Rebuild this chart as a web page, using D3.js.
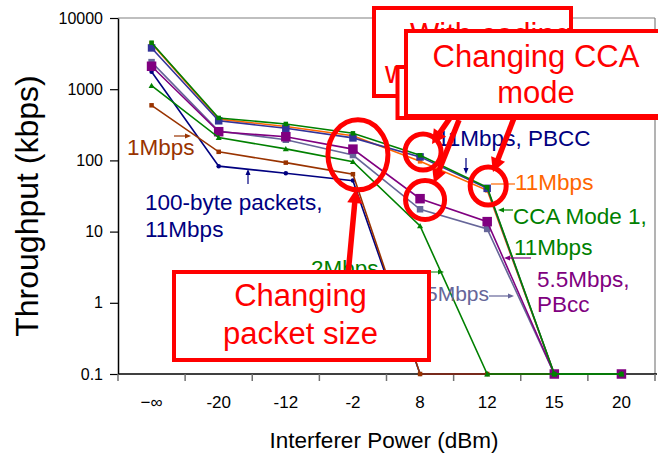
<!DOCTYPE html>
<html><head><meta charset="utf-8">
<script src="https://cdn.jsdelivr.net/npm/d3@7"></script>
<style>body{margin:0;background:#fff;} svg{display:block;} text{font-family:"Liberation Sans",Arial,sans-serif;}</style>
</head><body><svg id="c" width="658" height="457"></svg>
<script>
// ---- data ----
const categories = ["−∞","-20","-12","-2","8","12","15","20"];
const yTickValues = [0.1,1,10,100,1000,10000];
const yTickLabels = ["0.1","1","10","100","1000","10000"];
const byte100 = [1760,83,66,52,0.1,0.1,0.1,0.1];
const rate1   = [594,132,93,64,0.1,0.1,0.1,0.1];
const orange11= [4400,380,300,222,97,38,0.1,0.1];
const pbcc11  = [3800,360,283,207,112,40.5,0.1,0.1];
const rate55  = [2400,258,195,119,20.6,10.9,0.1,0.1];
const pbcc55  = [2100,253,215,144,29,13.8,0.1,0.1];
const rate2   = [1120,209,145,96,12,0.1,0.1,0.1];
const cca11   = [4500,395,325,240,118,42,0.1,0.1];

const seriesList = [
  {values: byte100, color:"#000080", shape:"circle", size:4.5},
  {values: rate1,   color:"#993300", shape:"square", size:4.5},
  {values: orange11,color:"#FF6600", shape:"square", size:4.5},
  {values: pbcc11,  color:"#333399", shape:"square", size:7.5},
  {values: rate55,  color:"#666699", shape:"square", size:6.5},
  {values: pbcc55,  color:"#800080", shape:"square", size:9.5},
  {values: rate2,   color:"#008000", shape:"triangle", size:6},
  {values: cca11,   color:"#008000", shape:"square", size:4.5}
];

const svg = d3.select("#c");
const L=118, R=655, T=18, B=374;
const x = d3.scalePoint().domain(categories).range([L,R]).padding(0.5);
const xb = d3.scaleBand().domain(categories).range([L,R]);
const y = d3.scaleLog().domain([0.1,10000]).range([B,T]);

// frame
svg.append("line").attr("x1",L).attr("x2",R).attr("y1",T).attr("y2",T).attr("stroke","#808080").attr("stroke-width",1.2);
svg.append("line").attr("x1",R).attr("x2",R).attr("y1",T).attr("y2",B).attr("stroke","#808080").attr("stroke-width",1.2);

// y axis
const ya = svg.append("g").attr("transform",`translate(${L},0)`)
  .call(d3.axisLeft(y).tickValues(yTickValues).tickFormat((d,i)=>yTickLabels[i]).tickSize(8).tickSizeOuter(0).tickPadding(7));
ya.select(".domain").attr("stroke","#000").attr("stroke-width",1.5);
ya.selectAll(".tick line").attr("stroke","#000").attr("stroke-width",1.2);
ya.selectAll("text").attr("font-size",16).attr("fill","#000").attr("font-family","Liberation Sans, Arial, sans-serif");

// x axis
svg.append("line").attr("x1",L).attr("x2",R+2).attr("y1",B).attr("y2",B).attr("stroke","#000").attr("stroke-width",1.5);
const bounds = categories.map(c=>xb(c)).concat([xb.range()[1]]);
svg.selectAll(".xt").data(bounds).enter().append("line")
  .attr("x1",d=>d).attr("x2",d=>d).attr("y1",B).attr("y2",B+7).attr("stroke","#707070").attr("stroke-width",1.5);
svg.selectAll(".xl").data(categories).enter().append("text")
  .attr("x",d=>x(d)).attr("y",408).attr("text-anchor","middle").attr("font-size",17).text(d=>d);

// titles
svg.append("text").attr("transform","translate(38,206) rotate(-90)").attr("text-anchor","middle")
  .attr("font-size",32).text("Throughput (kbps)");
svg.append("text").attr("x",384).attr("y",448).attr("text-anchor","middle").attr("font-size",22.5).text("Interferer Power (dBm)");

// series
const line = d3.line().x((d,i)=>x(categories[i])).y(d=>y(d));
seriesList.forEach(s=>{
  const g = svg.append("g");
  g.append("path").attr("d",line(s.values)).attr("fill","none").attr("stroke",s.color).attr("stroke-width",1.6);
  s.values.forEach((v,i)=>{
    const cx=x(categories[i]), cy=y(v), h=s.size/2;
    if(s.shape==="square") g.append("rect").attr("x",cx-h).attr("y",cy-h).attr("width",s.size).attr("height",s.size).attr("fill",s.color);
    else if(s.shape==="circle") g.append("circle").attr("cx",cx).attr("cy",cy).attr("r",h).attr("fill",s.color);
    else g.append("path").attr("d",`M${cx},${cy-h}L${cx+h},${cy+h*0.8}L${cx-h},${cy+h*0.8}Z`).attr("fill",s.color);
  });
});

// helpers
function arrow(g,x1,y1,x2,y2,w,hl,hw,color){
  const dx=x2-x1, dy=y2-y1, Ln=Math.hypot(dx,dy), ux=dx/Ln, uy=dy/Ln;
  const bx=x2-ux*hl, by=y2-uy*hl;
  g.append("line").attr("x1",x1).attr("y1",y1).attr("x2",bx+ux).attr("y2",by+uy).attr("stroke",color).attr("stroke-width",w);
  g.append("path").attr("d",`M${x2},${y2}L${bx-uy*hw/2},${by+ux*hw/2}L${bx+uy*hw/2},${by-ux*hw/2}Z`).attr("fill",color);
}
function label(g,txt,xx,yy,color,anchor,fs){
  return g.append("text").attr("x",xx).attr("y",yy).attr("fill",color).attr("font-size",fs||22.5).attr("text-anchor",anchor||"start").text(txt);
}
const ann = svg.append("g");

// series labels & thin arrows
label(ann,"1Mbps",127,155,"#993300");
arrow(ann,174,136,191,136,1.2,6,5,"#993300");
label(ann,"100-byte packets,",145,210,"#000080");
label(ann,"11Mbps",145,236.5,"#000080");
arrow(ann,248,184,248,169,1.2,6,5,"#000080");
label(ann,"11Mbps, PBCC",437,146,"#000080");
arrow(ann,466,158,466,174,1.2,6,5,"#000080");
label(ann,"11Mbps",515,190,"#FF6600");
ann.append("line").attr("x1",515).attr("x2",491).attr("y1",184).attr("y2",184).attr("stroke","#FF6600").attr("stroke-width",1.2);
label(ann,"CCA Mode 1,",513,224,"#008000");
label(ann,"11Mbps",514,255,"#008000");
arrow(ann,513,210,498,210,1.2,6,5,"#008000");
label(ann,"5.5Mbps,",537,286.5,"#800080");
label(ann,"PBcc",537,312,"#800080");
arrow(ann,531,258,504,258,1.2,6,5,"#800080");
label(ann,"2Mbps",311,276,"#008000");
arrow(ann,382,272,444,272,1.2,6,5,"#008000");
label(ann,"5.5Mbps",489,301,"#666699","end",21);
arrow(ann,489,296,514,296,1.2,6,5,"#666699");

// red circles (anchored on data scale)
const circles = [
  {cat:"-2", v:120, dx:5, rx:30, ry:35},
  {cat:"8",  v:131, dx:3, rx:18, ry:18},
  {cat:"8",  v:27.8,dx:5, rx:19.5, ry:19.5},
  {cat:"12", v:43.7,dx:1, rx:18, ry:19}
];
svg.selectAll(".circ").data(circles).enter().append("ellipse")
  .attr("cx",d=>x(d.cat)+d.dx).attr("cy",d=>y(d.v)).attr("rx",d=>d.rx).attr("ry",d=>d.ry)
  .attr("fill","none").attr("stroke","#FF0000").attr("stroke-width",5);

// callout boxes
const RED="#FF0000";
function box(xx,yy,w,h){
  return svg.append("rect").attr("x",xx).attr("y",yy).attr("width",w).attr("height",h)
    .attr("fill","#fff").attr("stroke",RED).attr("stroke-width",4);
}
function btext(txt,xx,yy,anchor){
  return svg.append("text").attr("x",xx).attr("y",yy).attr("fill",RED).attr("font-size",31).attr("text-anchor",anchor||"middle").text(txt);
}
box(374,8,197,88);
btext("With coding",410,45,"start");
btext("without",385,83,"start");
box(397.5,67,290,51);
box(406,31,280,85);
btext("Changing CCA",536,67);
btext("mode",536,103);
const ra = svg.append("g");
arrow(ra,450,118,432,144,5.5,14,15,RED);
arrow(ra,459,120,434,183,5.5,14,15,RED);
arrow(ra,514,118,493,172,5.5,14,15,RED);
box(174,272,255,88);
btext("Changing",300.5,306);
btext("packet size",300.5,344);
arrow(ra,347,286,356,189,5.5,14,15,RED);
</script></body></html>
